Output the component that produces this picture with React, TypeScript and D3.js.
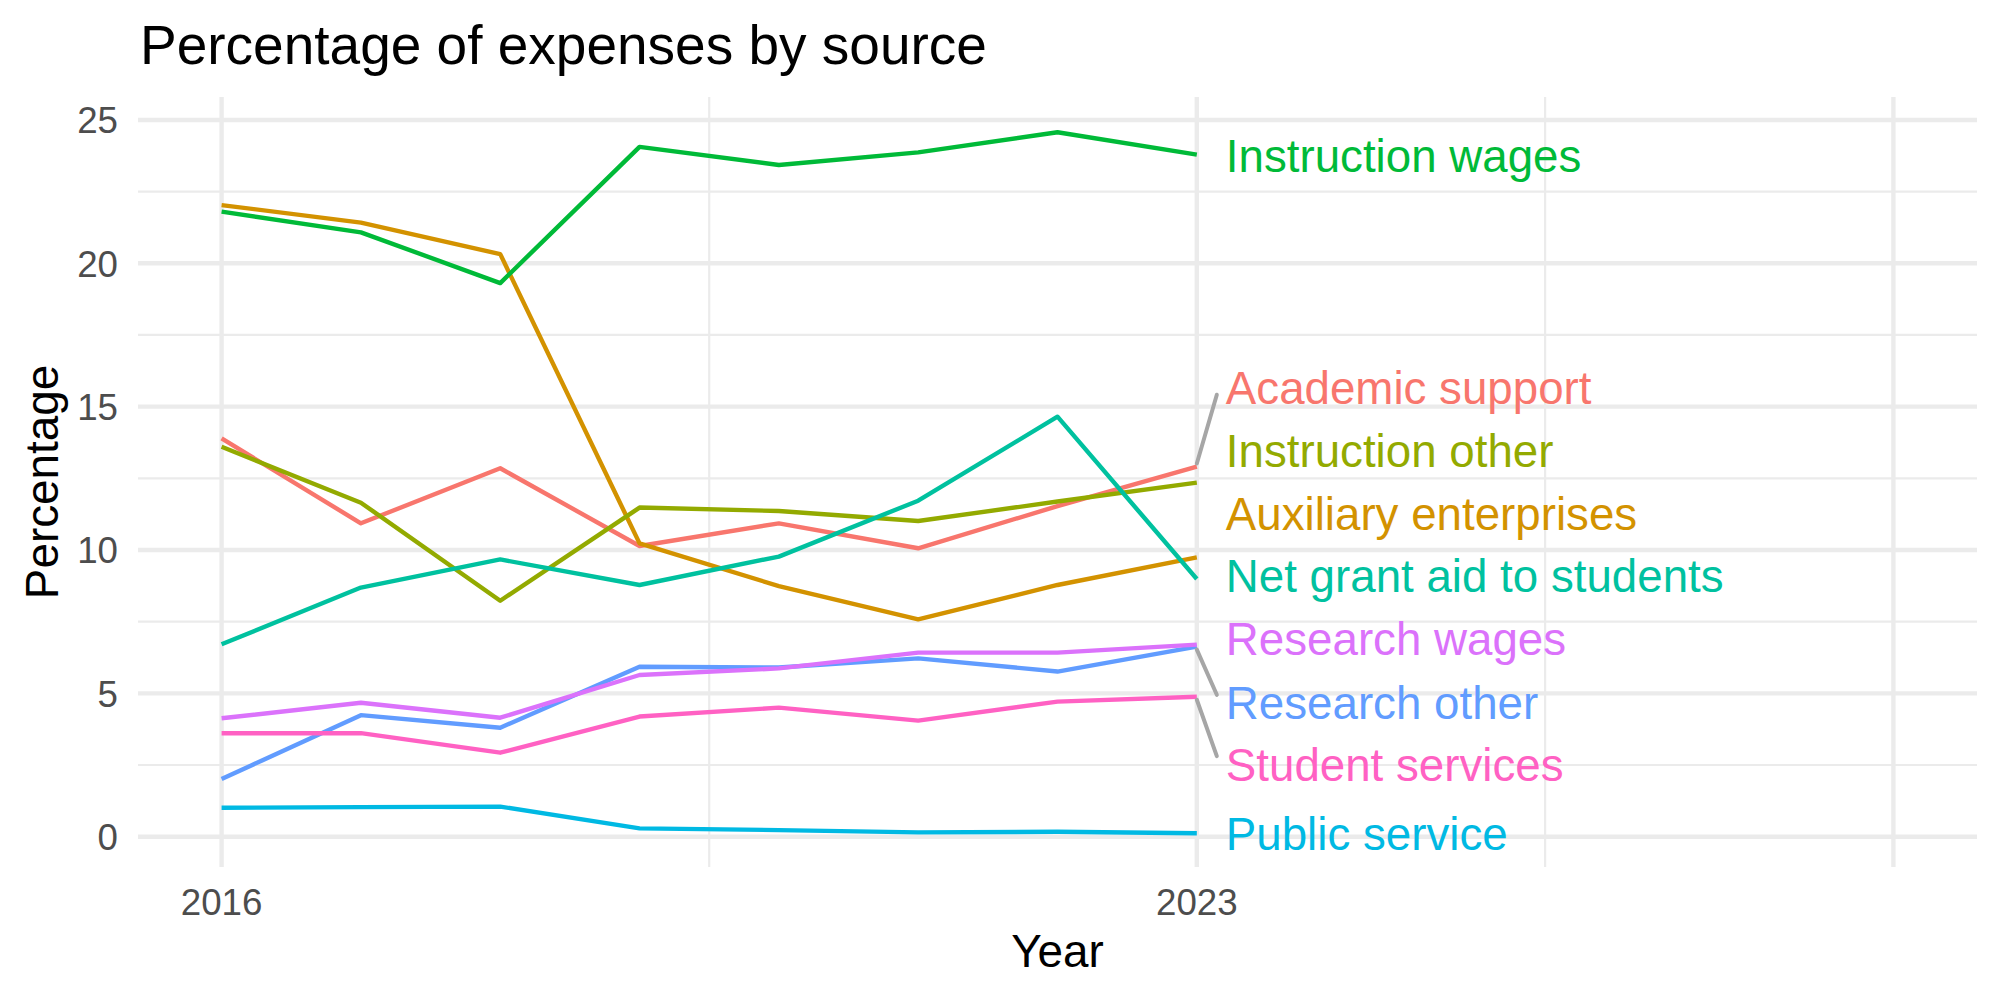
import React from "react";
import * as d3 from "d3";

const years = [2016, 2017, 2018, 2019, 2020, 2021, 2022, 2023];

const seriesNames = [
  "Academic support",
  "Auxiliary enterprises",
  "Instruction other",
  "Instruction wages",
  "Net grant aid to students",
  "Public service",
  "Research other",
  "Research wages",
  "Student services",
];

const seriesColors = [
  "#F8766D",
  "#D39200",
  "#93AA00",
  "#00BA38",
  "#00C19F",
  "#00B9E3",
  "#619CFF",
  "#DB72FB",
  "#FF61C3",
];

const academicSupport = [13.89, 10.93, 12.85, 10.14, 10.93, 10.06, 11.53, 12.91];
const auxiliaryEnterprises = [22.03, 21.42, 20.32, 10.23, 8.74, 7.58, 8.78, 9.74];
const instructionOther = [13.6, 11.65, 8.23, 11.48, 11.36, 11.01, 11.69, 12.35];
const instructionWages = [21.8, 21.08, 19.31, 24.06, 23.43, 23.87, 24.57, 23.79];
const netGrantAid = [6.71, 8.69, 9.67, 8.78, 9.77, 11.72, 14.65, 8.99];
const publicService = [1.01, 1.03, 1.05, 0.29, 0.23, 0.15, 0.17, 0.12];
const researchOther = [2.01, 4.24, 3.8, 5.93, 5.9, 6.22, 5.76, 6.63];
const researchWages = [4.13, 4.67, 4.15, 5.64, 5.87, 6.42, 6.42, 6.7];
const studentServices = [3.61, 3.61, 2.93, 4.19, 4.5, 4.05, 4.71, 4.88];

const seriesValues = [
  academicSupport,
  auxiliaryEnterprises,
  instructionOther,
  instructionWages,
  netGrantAid,
  publicService,
  researchOther,
  researchWages,
  studentServices,
];

// label centre positions (in data units) after repelling
const labelPositions = [15.66, 11.27, 13.46, 23.75, 9.1, 0.11, 4.67, 6.91, 2.53];

const yMajorTicks = [0, 5, 10, 15, 20, 25];
const yMinorTicks = [2.5, 7.5, 12.5, 17.5, 22.5];
const xMajorGrid = [2016, 2023, 2028];
const xMinorGrid = [2019.5, 2025.5];
const xTickLabels = [2016, 2023];

const FONT = "'Liberation Sans', Arial, Helvetica, sans-serif";

export default function App() {
  const W = 2000;
  const H = 1000;
  const panel = { left: 138, right: 1977, top: 97, bottom: 867 };

  const x = d3.scaleLinear().domain([2015.4, 2028.6]).range([panel.left, panel.right]);
  const y = d3.scaleLinear().domain([-1.057, 25.8]).range([panel.bottom, panel.top]);

  const line = d3
    .line<number>()
    .x((_, i) => x(years[i]))
    .y((v) => y(v));

  const lastYear = years[years.length - 1];
  const labelX = x(lastYear) + 29;
  const labelFont = 45.7;

  return (
    <svg
      width={W}
      height={H}
      style={{ position: "fixed", left: 0, top: 0, background: "#fff" }}
      fontFamily={FONT}
    >
      <rect x={0} y={0} width={W} height={H} fill="#fff" />
      {/* minor grid */}
      {yMinorTicks.map((t) => (
        <line key={"ym" + t} x1={panel.left} x2={panel.right} y1={y(t)} y2={y(t)} stroke="#EBEBEB" strokeWidth={2.2} />
      ))}
      {xMinorGrid.map((t) => (
        <line key={"xm" + t} x1={x(t)} x2={x(t)} y1={panel.top} y2={panel.bottom} stroke="#EBEBEB" strokeWidth={2.2} />
      ))}
      {/* major grid */}
      {yMajorTicks.map((t) => (
        <line key={"yM" + t} x1={panel.left} x2={panel.right} y1={y(t)} y2={y(t)} stroke="#EBEBEB" strokeWidth={4.4} />
      ))}
      {xMajorGrid.map((t) => (
        <line key={"xM" + t} x1={x(t)} x2={x(t)} y1={panel.top} y2={panel.bottom} stroke="#EBEBEB" strokeWidth={4.4} />
      ))}

      {/* lines */}
      {seriesValues.map((vals, i) => (
        <path
          key={seriesNames[i]}
          d={line(vals) || ""}
          fill="none"
          stroke={seriesColors[i]}
          strokeWidth={4.4}
          strokeLinejoin="round"
        />
      ))}

      {/* repel segments */}
      {seriesValues.map((vals, i) => {
        const py = y(vals[vals.length - 1]);
        const ly = y(labelPositions[i]);
        if (Math.abs(py - ly) < 50) return null;
        const endY = ly + (py > ly ? 7 : -8);
        return (
          <line
            key={"seg" + i}
            x1={x(lastYear)}
            y1={py + (py > ly ? -3 : 3)}
            x2={labelX - 9}
            y2={endY}
            stroke="#A6A6A6"
            strokeWidth={4}
            strokeLinecap="round"
          />
        );
      })}

      {/* labels */}
      {seriesNames.map((name, i) => (
        <text
          key={"lab" + name}
          x={labelX}
          y={y(labelPositions[i]) + 16.5}
          fill={seriesColors[i]}
          fontSize={labelFont}
        >
          {name}
        </text>
      ))}

      {/* y axis labels */}
      {yMajorTicks.map((t) => (
        <text key={"yl" + t} x={118} y={y(t) + 13.5} textAnchor="end" fontSize={36.7} fill="#4D4D4D">
          {t}
        </text>
      ))}
      {/* x axis labels */}
      {xTickLabels.map((t) => (
        <text key={"xl" + t} x={x(t)} y={915} textAnchor="middle" fontSize={36.7} fill="#4D4D4D">
          {t}
        </text>
      ))}

      {/* axis titles */}
      <text x={(panel.left + panel.right) / 2} y={966.5} textAnchor="middle" fontSize={45.8} fill="#000">
        Year
      </text>
      <text
        transform={`translate(58, ${(panel.top + panel.bottom) / 2}) rotate(-90)`}
        textAnchor="middle"
        fontSize={45.8}
        fill="#000"
      >
        Percentage
      </text>

      {/* title */}
      <text x={140} y={63.5} fontSize={55} fill="#000">
        Percentage of expenses by source
      </text>
    </svg>
  );
}
